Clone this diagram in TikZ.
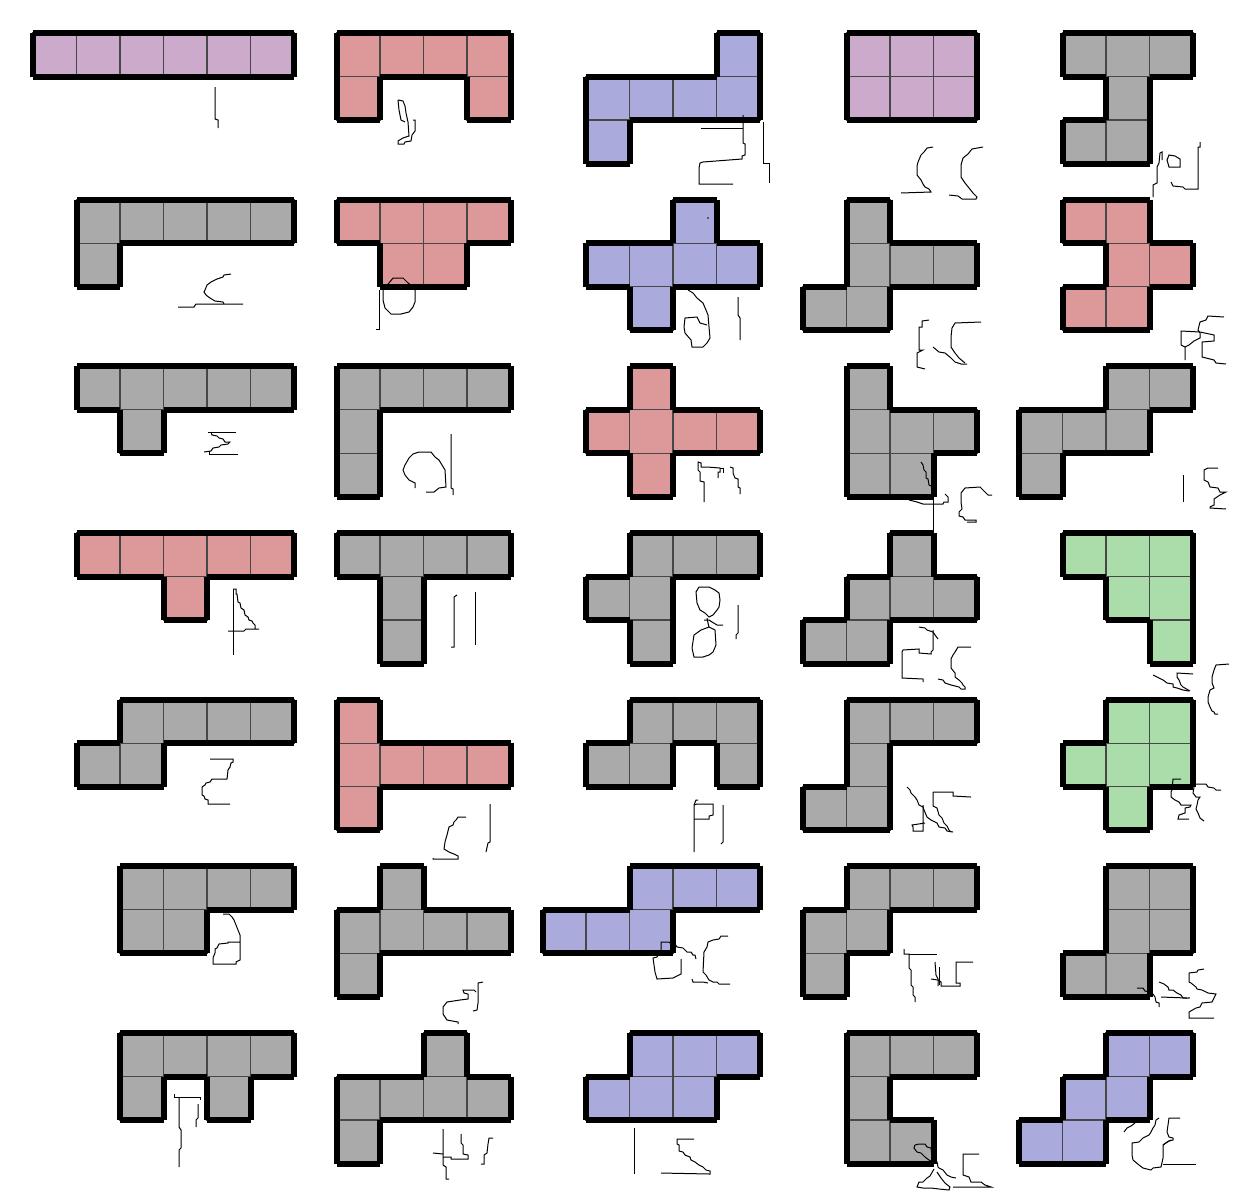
\documentclass[tikz,border=0pt]{standalone}
\definecolor{hpurple}{RGB}{204,170,204}
\definecolor{hred}{RGB}{221,153,153}
\definecolor{hblue}{RGB}{170,170,221}
\definecolor{hgray}{RGB}{170,170,170}
\definecolor{hgreen}{RGB}{170,221,170}
\newcommand\cellsz{43.5}
\newcommand\hexo[4]{%
  \foreach \ii/\jj in {#4}{\expandafter\gdef\csname pc#1x#2y\ii c\jj\endcsname{}}%
  \foreach \ii/\jj in {#4}{\filldraw[fill=#3,cellline] ({#1+\ii*\cellsz},{#2+\jj*\cellsz}) rectangle ++(\cellsz,\cellsz);}%
  \foreach \ii/\jj in {#4}{%
    \ifcsname pc#1x#2y\the\numexpr\ii-1\relax c\jj\endcsname\else
      \draw[outline] ({#1+\ii*\cellsz},{#2+\jj*\cellsz}) -- ++(0,\cellsz);\fi
    \ifcsname pc#1x#2y\the\numexpr\ii+1\relax c\jj\endcsname\else
      \draw[outline] ({#1+(\ii+1)*\cellsz},{#2+\jj*\cellsz}) -- ++(0,\cellsz);\fi
    \ifcsname pc#1x#2y\ii c\the\numexpr\jj-1\relax\endcsname\else
      \draw[outline] ({#1+\ii*\cellsz},{#2+\jj*\cellsz}) -- ++(\cellsz,0);\fi
    \ifcsname pc#1x#2y\ii c\the\numexpr\jj+1\relax\endcsname\else
      \draw[outline] ({#1+\ii*\cellsz},{#2+(\jj+1)*\cellsz}) -- ++(\cellsz,0);\fi
  }%
}
\begin{document}
\begin{tikzpicture}[x=1pt,y=-1pt,
  cellline/.style={draw=black!72,line width=1.3pt},
  outline/.style={line width=6pt,line cap=square,draw=black},
  sq/.style={line width=1pt,draw=black,line join=miter}]
\fill[white] (0,0) rectangle (1233,1200);
\useasboundingbox (0,0) rectangle (1233,1200);
% row 1
\hexo{33}{33}{hpurple}{0/0,1/0,2/0,3/0,4/0,5/0}
\hexo{336.5}{33}{hred}{0/0,1/0,2/0,3/0,0/1,3/1}
\hexo{586}{33}{hblue}{3/0,0/1,1/1,2/1,3/1,0/2}
\hexo{846.5}{33}{hpurple}{0/0,1/0,2/0,0/1,1/1,2/1}
\hexo{1062.5}{33}{hgray}{0/0,1/0,2/0,1/1,0/2,1/2}
% row 2
\hexo{76.5}{199.67}{hgray}{0/0,1/0,2/0,3/0,4/0,0/1}
\hexo{336.5}{199.67}{hred}{0/0,1/0,2/0,3/0,1/1,2/1}
\hexo{586}{199.67}{hblue}{2/0,0/1,1/1,2/1,3/1,1/2}
\hexo{803}{199.67}{hgray}{1/0,1/1,2/1,3/1,0/2,1/2}
\hexo{1062.5}{199.67}{hred}{0/0,1/0,1/1,2/1,0/2,1/2}
% row 3
\hexo{76.5}{366.33}{hgray}{0/0,1/0,2/0,3/0,4/0,1/1}
\hexo{336.5}{366.33}{hgray}{0/0,1/0,2/0,3/0,0/1,0/2}
\hexo{586}{366.33}{hred}{1/0,0/1,1/1,2/1,3/1,1/2}
\hexo{846.5}{366.33}{hgray}{0/0,0/1,1/1,2/1,0/2,1/2}
\hexo{1019}{366.33}{hgray}{2/0,3/0,0/1,1/1,2/1,0/2}
% row 4
\hexo{76.5}{533}{hred}{0/0,1/0,2/0,3/0,4/0,2/1}
\hexo{336.5}{533}{hgray}{0/0,1/0,2/0,3/0,1/1,1/2}
\hexo{586}{533}{hgray}{1/0,2/0,3/0,0/1,1/1,1/2}
\hexo{803}{533}{hgray}{2/0,1/1,2/1,3/1,0/2,1/2}
\hexo{1062.5}{533}{hgreen}{0/0,1/0,2/0,1/1,2/1,2/2}
% row 5
\hexo{76.5}{699.67}{hgray}{1/0,2/0,3/0,4/0,0/1,1/1}
\hexo{336.5}{699.67}{hred}{0/0,0/1,1/1,2/1,3/1,0/2}
\hexo{586}{699.67}{hgray}{1/0,2/0,3/0,0/1,1/1,3/1}
\hexo{803}{699.67}{hgray}{1/0,2/0,3/0,1/1,0/2,1/2}
\hexo{1062.5}{699.67}{hgreen}{1/0,2/0,0/1,1/1,2/1,1/2}
% row 6
\hexo{120}{866.33}{hgray}{0/0,1/0,2/0,3/0,0/1,1/1}
\hexo{336.5}{866.33}{hgray}{1/0,0/1,1/1,2/1,3/1,0/2}
\hexo{542.5}{866.33}{hblue}{2/0,3/0,4/0,0/1,1/1,2/1}
\hexo{803}{866.33}{hgray}{1/0,2/0,3/0,0/1,1/1,0/2}
\hexo{1062.5}{866.33}{hgray}{1/0,2/0,1/1,2/1,0/2,1/2}
% row 7
\hexo{120}{1033}{hgray}{0/0,1/0,2/0,3/0,0/1,2/1}
\hexo{336.5}{1033}{hgray}{2/0,0/1,1/1,2/1,3/1,0/2}
\hexo{586}{1033}{hblue}{1/0,2/0,3/0,0/1,1/1,2/1}
\hexo{846.5}{1033}{hgray}{0/0,1/0,2/0,0/1,0/2,1/2}
\hexo{1019}{1033}{hblue}{2/0,3/0,1/1,2/1,0/2,1/2}
% ---------- handwritten marks ----------
% R1
\draw[sq] (215,87)--(215,119)--(218,120)--(218,128);
\draw[sq] (398,100)--(403,101)--(405,106)--(406,113)--(408,122)--(409,136)--(403,138)--(398,141)--(398,144)--(404,144)--(405,142)--(411,141)--(412,135)--(415,131)--(415,120)--(413,120);
\draw[sq] (398,100)--(399,110)--(401,120)--(405,122);
\draw[sq] (701,128)--(743,128);
\draw[sq] (743,115)--(743,143)--(745,144)--(745,155)--(742,156)--(742,159)--(703,162)--(700,163)--(699,168)--(699,184)--(733,184);
\draw[sq] (763,122)--(763,163)--(769,163)--(769,183);
\draw[sq] (933,147)--(927,148)--(924,152)--(921,155)--(918,162)--(917,166)--(917,175)--(921,180)--(923,184)--(925,187)--(929,189)--(931,192)--(901,193);
\draw[sq] (983,147)--(972,149)--(968,154)--(963,158)--(961,165)--(961,177)--(965,183)--(969,188)--(973,193)--(977,197)--(976,199)--(962,199)--(958,196)--(949,195);
\draw[sq] (1153,197)--(1153,185)--(1157,183)--(1157,167)--(1159,163)--(1160,153)--(1162,152)--(1162,160);
\draw[sq] (1169,155)--(1175,156)--(1180,159)--(1180,167)--(1169,167)--(1167,160)--cycle;
\draw[sq] (1171,182)--(1173,186)--(1183,187)--(1185,189)--(1198,189)--(1198,147)--(1200,147)--(1200,142);
% R2
\draw[sq] (231,274)--(224,275)--(223,277)--(217,279)--(211,282)--(207,285)--(205,290)--(204,292)--(206,295)--(210,298)--(215,301)--(223,302)--(224,304);
\draw[sq] (178,307)--(194,307)--(196,304)--(243,304);
\draw[sq] (393,278)--(403,278)--(407,282)--(413,287)--(415,290)--(415,302)--(413,307)--(409,312)--(401,314)--(391,314)--(385,308)--(383,300)--(383,290)--(389,283)--cycle;
\draw[sq] (379,290)--(379,329)--(376,329);
\draw[sq] (688,290)--(693,293)--(697,298)--(703,303)--(706,310)--(708,315)--(709,327)--(710,338)--(707,343)--(703,347)--(692,347)--(691,340)--(685,333)--(684,327)--(685,318)--(697,317)--(700,323)--(707,325);
\draw[sq] (738,297)--(738,315)--(740,318)--(740,340);
\fill (708,218) circle (0.8);
\draw[sq] (929,320)--(922,321)--(922,327)--(919,327)--(919,350)--(923,350)--(917,353)--(917,367)--(925,369);
\draw[sq] (933,347)--(939,352)--(945,353)--(951,358)--(955,362)--(961,364)--(967,364);
\draw[sq] (981,322)--(955,323)--(952,328)--(951,337)--(951,347)--(955,353)--(959,358)--(965,363);
\draw[sq] (1185,360)--(1185,347)--(1181,345)--(1181,331)--(1200,332)--(1214,335)--(1214,341)--(1202,342)--(1202,357)--(1214,360)--(1216,363)--(1226,364);
\draw[sq] (1224,317)--(1208,316)--(1206,320)--(1200,322)--(1198,330)--(1200,333)--(1200,338)--(1194,341)--(1189,345)--(1185,347);
% R3
\draw[sq] (208,432)--(236,432);
\draw[sq] (211,432)--(212,435)--(217,436)--(219,438)--(223,439)--(225,442)--(230,442)--(228,444)--(221,445)--(219,447)--(213,448)--(211,451)--(204,452);
\draw[sq] (209,451)--(209,454)--(238,454);
\draw[sq] (415,488)--(415,483)--(409,480)--(405,475)--(403,470)--(405,465)--(409,458)--(413,454)--(419,452)--(431,452)--(435,457)--(439,460)--(442,465)--(445,470)--(446,487)--(439,488)--(434,492)--(426,492);
\draw[sq] (451,434)--(451,488)--(453,489)--(453,495);
\draw[sq] (704,502)--(704,482)--(700,481)--(700,472)--(698,470)--(698,462)--(701,463)--(701,467)--(707,467)--(720,468)--(720,472)--(718,472)--(718,478);
\draw[sq] (720,468)--(723,468)--(723,473);
\draw[sq] (730,467)--(733,468)--(733,473)--(735,478)--(738,479)--(738,487)--(740,488)--(740,494);
\draw[sq] (921,462)--(923,465)--(924,470)--(926,472)--(926,478)--(928,479)--(929,485)--(933,487);
\draw[sq] (909,500)--(917,502)--(923,504)--(943,504)--(944,502)--(948,502)--(948,497)--(945,494);
\draw[sq] (933,498)--(933,530);
\draw[sq] (992,495)--(988,495)--(984,491)--(980,487)--(965,488)--(961,493)--(961,502)--(962,509)--(959,512)--(959,516)--(963,517)--(965,520)--(976,520)--(976,522)--(967,522);
\draw[sq] (1183,475)--(1183,502);
\draw[sq] (1218,468)--(1208,468)--(1204,470)--(1204,480)--(1208,482)--(1210,487)--(1218,488)--(1220,492)--(1226,492)--(1220,495)--(1214,499)--(1214,505)--(1210,507)--(1210,508)--(1226,509);
% R4
\draw[sq] (233,589)--(236,589)--(236,594)--(237,594)--(238,602)--(240,603)--(241,608)--(244,610)--(245,615)--(248,617)--(249,620)--(252,621)--(253,623)--(255,625)--(255,629)--(259,629)--(246,629)--(244,631)--(228,631);
\draw[sq] (233,589)--(233,655);
\draw[sq] (457,595)--(454,597)--(454,647)--(451,647);
\draw[sq] (475,592)--(475,645);
\draw[sq] (699,587)--(709,587)--(715,590)--(719,593)--(720,600)--(719,607)--(717,610)--(713,615)--(709,617)--(705,613)--(700,610)--(697,603)--(696,592)--cycle;
\draw[sq] (704,620)--(709,620)--(712,622)--(717,625)--(723,625);
\draw[sq] (707,618)--(708,623)--(709,627);
\draw[sq] (709,627)--(715,630)--(716,645)--(713,652)--(709,655)--(703,657)--(694,657)--(692,648)--(694,635)--(701,630)--cycle;
\draw[sq] (738,605)--(738,633)--(736,635)--(736,639);
\draw[sq] (919,627)--(925,628)--(927,630)--(933,632)--(935,635)--(938,639);
\draw[sq] (933,630)--(933,650)--(931,652)--(931,654)--(919,653)--(919,649)--(903,650)--(902,652)--(902,678)--(923,679)--(923,682);
\draw[sq] (971,647)--(958,647)--(955,652)--(953,655)--(951,659)--(951,668)--(955,673)--(955,677)--(959,680)--(962,683)--(963,685)--(965,687)--(965,689)--(961,689)--(959,687)--(951,685)--(945,683)--(943,680)--(938,679);
\draw[sq] (1153,675)--(1159,678)--(1163,680)--(1167,683)--(1173,684)--(1173,687)--(1177,688)--(1183,690)--(1189,691);
\draw[sq] (1193,674)--(1177,673)--(1177,677)--(1179,680)--(1181,685)--(1183,687)--(1190,691);
\draw[sq] (1229,664)--(1216,665)--(1214,670)--(1212,677)--(1212,683)--(1214,688)--(1210,690)--(1208,697)--(1208,702)--(1210,707)--(1212,711)--(1214,712)--(1215,714)--(1218,714);
% R5
\draw[sq] (210,759)--(233,759)--(233,762)--(231,763)--(230,767)--(228,770)--(227,779)--(212,779)--(210,782)--(206,783)--(205,785)--(202,787)--(202,795)--(204,796)--(205,799)--(208,800)--(208,804)--(230,804);
\draw[sq] (466,817)--(458,817)--(456,820)--(454,822)--(453,825)--(449,827)--(447,835)--(445,842)--(444,849)--(449,852)--(454,854)--(458,856)--(458,859)--(433,859)--(433,858);
\draw[sq] (490,804)--(490,842)--(488,843)--(486,852);
\draw[sq] (694,852)--(694,805)--(696,800)--(698,800);
\draw[sq] (694,805)--(697,804)--(713,804)--(713,815)--(709,816)--(709,819)--(694,819);
\draw[sq] (723,805)--(723,842)--(721,844);
\draw[sq] (907,787)--(910,790)--(911,793)--(915,797)--(917,800)--(919,805)--(923,807)--(924,810)--(927,817)--(931,820)--(937,823)--(939,827)--(945,828)--(947,831)--(953,832);
\draw[sq] (923,805)--(923,831)--(913,831)--(913,827)--(912,825)--(925,823);
\draw[sq] (933,792)--(953,792)--(953,796)--(971,797);
\draw[sq] (933,792)--(933,806)--(937,808)--(939,815)--(942,818)--(944,823)--(947,826)--(949,830)--(951,832);
\draw[sq] (1181,779)--(1173,779)--(1172,790)--(1171,792)--(1171,797)--(1175,800)--(1179,802)--(1181,805)--(1191,805)--(1190,807)--(1185,808)--(1185,813)--(1179,815)--(1178,819)--(1189,819);
\draw[sq] (1195,784)--(1206,784)--(1208,787)--(1214,788)--(1216,790)--(1221,790);
\draw[sq] (1194,787)--(1193,793)--(1196,797)--(1200,797)--(1198,800)--(1197,805)--(1196,809)--(1198,813)--(1200,818)--(1204,821);
% R6
\draw[sq] (223,914)--(229,914)--(232,917)--(234,920)--(236,925)--(238,930)--(240,935)--(240,960)--(236,962)--(236,964)--(213,964)--(213,958)--(215,953)--(215,949)--(217,948)--(219,944)--(228,943)--(228,942)--(240,942);
\draw[sq] (458,1024)--(458,1022)--(447,1020)--(445,1017)--(443,1014)--(443,1007)--(447,1002)--(460,1000)--(468,999)--(468,994)--(464,993)--(463,990)--(474,990)--(476,992);
\draw[sq] (473,1011)--(477,1010)--(478,1003)--(478,983)--(483,982);
\draw[sq] (661,950)--(661,942)--(669,942)--(671,944)--(675,944)--(677,947)--(683,948)--(687,952)--(691,952)--(693,955)--(695,955)--(696,959);
\draw[sq] (681,959)--(681,974)--(677,976)--(673,978)--(657,979)--(655,972)--(653,958)--(657,957)--(661,950);
\draw[sq] (728,936)--(721,936)--(719,939)--(713,940)--(708,942)--(707,947)--(704,952)--(703,972)--(706,975)--(709,980)--(713,982)--(717,982)--(719,984)--(730,984);
\draw[sq] (692,979)--(693,982)--(703,982)--(708,983);
\draw[sq] (904,949)--(904,954)--(909,954)--(909,968)--(911,970)--(911,985)--(913,987)--(913,995)--(915,997)--(915,1002);
\draw[sq] (909,954)--(937,954);
\draw[sq] (935,962)--(936,975)--(938,979)--(938,986);
\draw[sq] (931,979)--(938,980)--(941,982)--(941,986)--(960,986)--(960,983)--(956,983)--(956,962)--(973,962);
\draw[sq] (939,967)--(939,985);
\draw[sq] (1137,988)--(1143,988)--(1145,991)--(1149,992)--(1153,994)--(1155,997)--(1156,1002)--(1159,1003)--(1159,1007);
\draw[sq] (1159,982)--(1164,984)--(1168,987)--(1169,990)--(1173,990)--(1177,993)--(1181,995)--(1183,998)--(1189,998)--(1189,997);
\draw[sq] (1161,997)--(1187,998);
\draw[sq] (1204,969)--(1198,970)--(1197,972)--(1189,973)--(1189,982)--(1191,983)--(1196,987)--(1197,989)--(1202,990)--(1206,992)--(1208,993)--(1216,994)--(1214,998)--(1212,1002)--(1202,1003)--(1200,1007)--(1196,1008)--(1189,1012)--(1189,1018)--(1214,1018);
% R7
\draw[sq] (174,1094)--(174,1097)--(200,1097)--(200,1100);
\draw[sq] (179,1097)--(179,1127)--(181,1130)--(181,1148)--(179,1150)--(179,1167);
\draw[sq] (198,1104)--(198,1118)--(196,1120)--(196,1127);
\draw[sq] (443,1129)--(443,1165)--(446,1167)--(446,1179)--(449,1179);
\draw[sq] (433,1153)--(443,1154);
\draw[sq] (443,1157)--(451,1157)--(451,1159)--(468,1159)--(468,1155)--(463,1154)--(463,1145)--(461,1143)--(461,1134);
\draw[sq] (481,1164)--(484,1164)--(484,1155)--(487,1153)--(488,1144)--(489,1138)--(493,1138);
\draw[sq] (634,1128)--(634,1174);
\draw[sq] (694,1139)--(677,1139)--(677,1144)--(679,1145)--(679,1151)--(683,1152)--(685,1155)--(690,1157)--(691,1160)--(695,1162)--(699,1165)--(703,1167)--(706,1170)--(710,1171)--(710,1174)--(661,1173);
\draw[sq] (915,1145)--(919,1144)--(925,1144)--(927,1147)--(931,1148)--(932,1157)--(935,1158)--(935,1163)--(929,1160)--(925,1157)--(921,1153)--(917,1152)--(914,1148)--cycle;
\draw[sq] (935,1158)--(937,1162)--(938,1167)--(939,1168)--(943,1170)--(947,1175)--(951,1177)--(956,1178);
\draw[sq] (934,1169)--(930,1176)--(927,1178)--(923,1182)--(919,1182)--(917,1187)--(923,1188)--(931,1188)--(939,1189)--(949,1190)--(950,1187)--(945,1183)--(941,1178)--(937,1172);
\draw[sq] (979,1154)--(963,1154)--(963,1175)--(969,1177)--(971,1182)--(981,1182)--(985,1185)--(991,1187)--(953,1187);
\draw[sq] (1124,1132)--(1127,1128)--(1131,1126)--(1135,1123);
\draw[sq] (1159,1118)--(1156,1120)--(1155,1125)--(1153,1128)--(1151,1132)--(1149,1135)--(1143,1138)--(1139,1142)--(1132,1143)--(1132,1155)--(1133,1160)--(1139,1165)--(1143,1168)--(1151,1170)--(1153,1168)--(1161,1167)--(1163,1158)--(1163,1145)--(1167,1142)--(1171,1140);
\draw[sq] (1180,1118)--(1169,1118)--(1168,1125)--(1167,1132)--(1169,1137)--(1173,1138)--(1173,1140)--(1169,1141)--(1163,1145);
\draw[sq] (1163,1164)--(1196,1164);
\end{tikzpicture}
\end{document}
